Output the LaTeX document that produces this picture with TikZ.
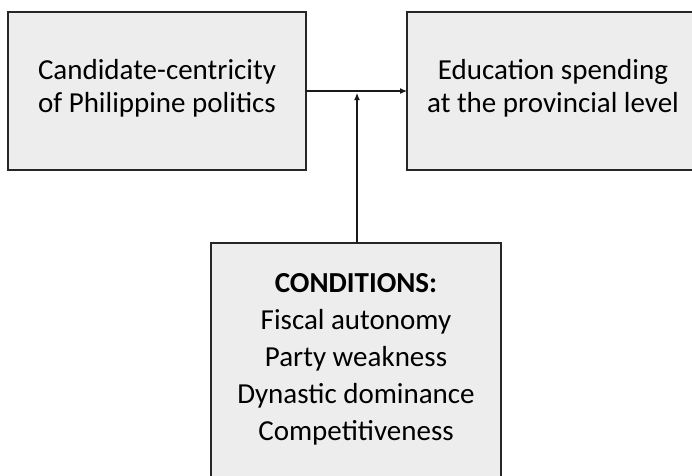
\documentclass[tikz,border=0pt]{standalone}
\usepackage{fontspec}
\setmainfont{Carlito}
\usetikzlibrary{arrows.meta}
\begin{document}
\begin{tikzpicture}[x=1pt,y=-1pt,
  box/.style={draw=black!85, line width=1.3pt, fill=black!7},
  lbl/.style={align=center, font=\fontsize{29}{33}\selectfont, text=black, inner sep=0pt},
  lbl2/.style={align=center, font=\fontsize{29}{37}\selectfont, text=black, inner sep=0pt},
  arr/.style={draw=black!90, line width=1.1pt, -{Latex[length=7pt,width=6pt]}}]
\useasboundingbox (0,0) rectangle (692,475);
\path[box] (8,12) rectangle (306,170);
\coordinate (lr) at (306,91);
\path[box] (407,12) rectangle (700,170);
\coordinate (rl) at (407,91);
\path[box] (211,243) rectangle (501,490);
\coordinate (bt) at (357,243);
\coordinate (mid) at (357,93);
\node[lbl] (left) at (157,88) {Candidate-centricity\\of Philippine politics};
\node[lbl] (right) at (553,88) {Education spending\\at the provincial level};
\node[lbl2] (cond) at (356,359) {\textbf{CONDITIONS:}\\Fiscal autonomy\\Party weakness\\Dynastic dominance\\Competitiveness};
\draw[arr] (lr) -- (rl);
\draw[arr] (bt) -- (mid);
\end{tikzpicture}
\end{document}
